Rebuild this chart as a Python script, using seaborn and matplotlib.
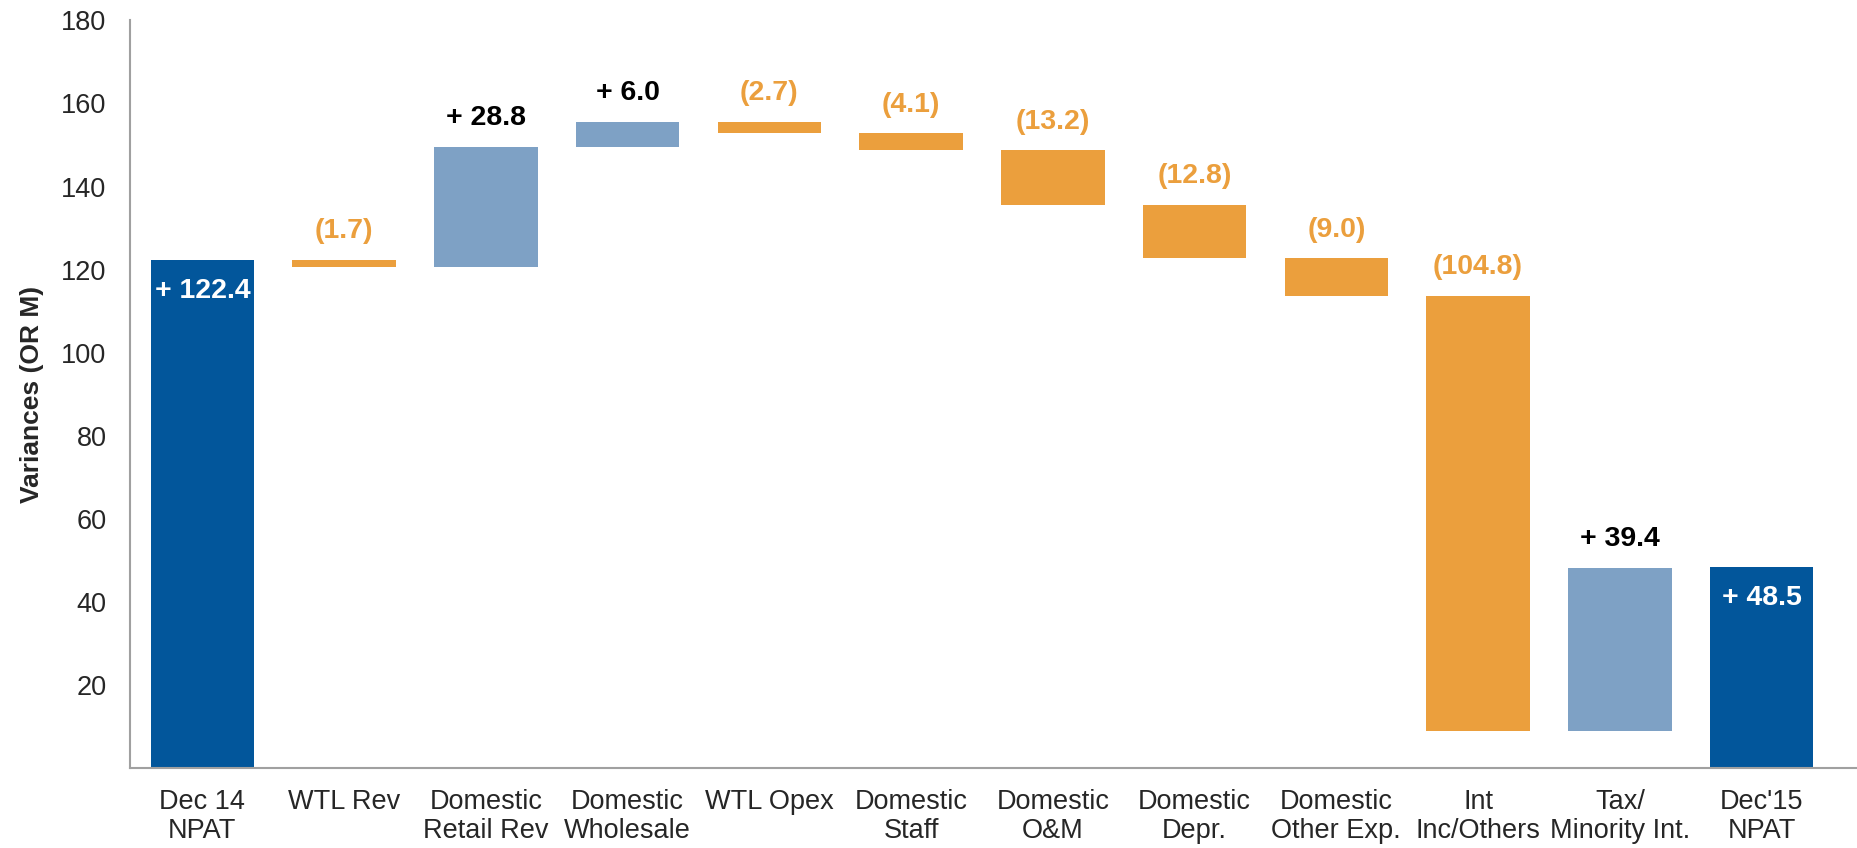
import numpy as np
import pandas as pd
import matplotlib
matplotlib.use("Agg")
import matplotlib.pyplot as plt
import seaborn as sns

categories = ["Dec 14\nNPAT", "WTL Rev", "Domestic\nRetail Rev", "Domestic\nWholesale",
              "WTL Opex", "Domestic\nStaff", "Domestic\nO&M", "Domestic\nDepr.",
              "Domestic\nOther Exp.", "Int\nInc/Others", "Tax/\nMinority Int.", "Dec'15\nNPAT"]
changes = [122.4, -1.7, 28.8, 6.0, -2.7, -4.1, -13.2, -12.8, -9.0, -104.8, 39.4, 48.5]
kinds = ["total", "delta", "delta", "delta", "delta", "delta", "delta", "delta",
         "delta", "delta", "delta", "total"]
labels = ["+ 122.4", "(1.7)", "+ 28.8", "+ 6.0", "(2.7)", "(4.1)", "(13.2)", "(12.8)",
          "(9.0)", "(104.8)", "+ 39.4", "+ 48.5"]
yticks = [20, 40, 60, 80, 100, 120, 140, 160, 180]

DARK = "#02569B"
LIGHT = "#7EA1C5"
ORANGE = "#EB9F3D"

# waterfall geometry
bottoms, heights = [], []
running = 0.0
for c, k in zip(changes, kinds):
    if k == "total":
        bottoms.append(0.0)
        heights.append(c)
        running = c
    else:
        if c >= 0:
            bottoms.append(running)
            heights.append(c)
        else:
            bottoms.append(running + c)
            heights.append(-c)
        running += c

df = pd.DataFrame({"category": categories, "height": heights})

sns.set_theme(style="white")
plt.rcParams["font.family"] = ["Liberation Sans", "DejaVu Sans"]

fig = plt.figure(figsize=(18.58, 8.48), dpi=100)
ax = fig.add_axes([0.070, 0.094, 0.930, 0.882])

sns.barplot(data=df, x="category", y="height", order=categories, bottom=bottoms,
            width=0.73, color=DARK, saturation=1, ax=ax, errorbar=None)

for i, p in enumerate(ax.patches):
    if kinds[i] == "total":
        p.set_facecolor(DARK)
    elif changes[i] >= 0:
        p.set_facecolor(LIGHT)
    else:
        p.set_facecolor(ORANGE)
    p.set_edgecolor("none")

for i, (b, h) in enumerate(zip(bottoms, heights)):
    top = b + h
    if kinds[i] == "total":
        ax.text(i, top - 7.5, labels[i], ha="center", va="center", color="white",
                fontsize=20.5, fontweight="bold")
    else:
        col = "black" if changes[i] >= 0 else ORANGE
        ax.text(i, top + 3.8, labels[i], ha="center", va="bottom", color=col,
                fontsize=20.5, fontweight="bold")

ax.set_ylim(0, 180)
ax.set_xlim(-0.51, 11.68)
ax.set_yticks(yticks)
ax.set_yticklabels([str(v) for v in yticks], fontsize=19.5)
ax.set_xticks(range(len(categories)))
ax.set_xticklabels(categories, fontsize=19.5, linespacing=1.15)
ax.tick_params(axis="y", length=0, pad=17)
ax.tick_params(axis="x", length=0, pad=15)
ax.set_xlabel("")
ax.set_ylabel("Variances (OR M)", fontsize=19, fontweight="bold", labelpad=12)

for s in ["top", "right"]:
    ax.spines[s].set_visible(False)
for s in ["left", "bottom"]:
    ax.spines[s].set_color("#A0A0A0")
    ax.spines[s].set_linewidth(1.5)

fig.savefig("out.png", dpi=100)
